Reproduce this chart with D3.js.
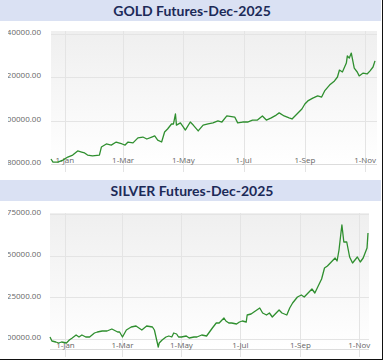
<!DOCTYPE html>
<html>
<head>
<meta charset="utf-8">
<script src="https://cdn.jsdelivr.net/npm/d3@7/dist/d3.min.js"></script>
<style>
body { margin: 0; background: #fff; }
svg { display: block; }
.title { font-family: Lato, "Open Sans", sans-serif; font-weight: 700; font-size: 14px; fill: #1c2a58; }
.tick-label { font-family: "Open Sans", sans-serif; font-size: 8px; fill: #666; }
</style>
</head>
<body>
<div id="chart"></div>
<script>
// values
var goldDates = ["2024-12-18","2024-12-20","2024-12-25","2024-12-30","2025-01-04","2025-01-09","2025-01-14","2025-01-18","2025-01-21","2025-01-24",
  "2025-01-29","2025-02-05","2025-02-07","2025-02-12","2025-02-17","2025-02-22","2025-02-28","2025-03-03","2025-03-06","2025-03-11",
  "2025-03-16","2025-03-21","2025-03-25","2025-03-30","2025-04-02","2025-04-05","2025-04-09","2025-04-12","2025-04-15","2025-04-19",
  "2025-04-21","2025-04-23","2025-04-24","2025-04-28","2025-05-01","2025-05-03","2025-05-08","2025-05-11","2025-05-16","2025-05-21",
  "2025-05-26","2025-05-31","2025-06-05","2025-06-09","2025-06-14","2025-06-22","2025-06-25","2025-06-30","2025-07-05","2025-07-10",
  "2025-07-15","2025-07-20","2025-07-24","2025-07-29","2025-08-03","2025-08-06","2025-08-11","2025-08-16","2025-08-19","2025-08-24",
  "2025-08-29","2025-09-01","2025-09-04","2025-09-09","2025-09-14","2025-09-18","2025-09-21","2025-09-26","2025-10-01","2025-10-04",
  "2025-10-06","2025-10-09","2025-10-13","2025-10-14","2025-10-16","2025-10-18","2025-10-21","2025-10-24","2025-10-26","2025-10-30",
  "2025-11-03","2025-11-06","2025-11-09","2025-11-11"];
var goldValues = [82300,80900,80900,81800,83200,84100,86000,85500,85100,84100,
  83700,84100,87800,89200,88700,90100,89200,88700,90100,89700,
  92000,92400,91500,92400,92900,91000,90100,94700,96100,98400,
  98400,103000,97900,98900,97000,95600,99300,97900,95200,97900,
  98400,98900,99800,99300,102100,101600,98900,99300,99300,100200,
  100200,102100,100200,101200,102500,103500,102100,101200,100700,103000,
  105300,107600,109000,110300,111300,110800,113600,116300,118200,120000,
  123200,122300,126400,129700,128700,131000,124100,122300,120500,121800,
  121400,122800,124600,127400];

var silverDates = ["2024-12-16","2024-12-18","2024-12-22","2024-12-25","2024-12-28","2025-01-02","2025-01-05","2025-01-08","2025-01-12","2025-01-15",
  "2025-01-18","2025-01-22","2025-01-26","2025-01-31","2025-02-03","2025-02-08","2025-02-13","2025-02-18","2025-02-24","2025-02-26",
  "2025-03-01","2025-03-05","2025-03-10","2025-03-15","2025-03-18","2025-03-21","2025-03-26","2025-04-01","2025-04-03","2025-04-07",
  "2025-04-08","2025-04-11","2025-04-15","2025-04-18","2025-04-21","2025-04-23","2025-04-26","2025-04-28","2025-05-01","2025-05-06",
  "2025-05-09","2025-05-14","2025-05-17","2025-05-22","2025-05-27","2025-06-02","2025-06-06","2025-06-09","2025-06-14","2025-06-16",
  "2025-06-19","2025-06-22","2025-06-27","2025-06-30","2025-07-03","2025-07-07","2025-07-08","2025-07-12","2025-07-15","2025-07-21",
  "2025-07-24","2025-07-28","2025-07-31","2025-08-03","2025-08-07","2025-08-10","2025-08-13","2025-08-18","2025-08-21","2025-08-24",
  "2025-08-29","2025-09-02","2025-09-05","2025-09-09","2025-09-13","2025-09-16","2025-09-19","2025-09-23","2025-09-26","2025-09-29",
  "2025-10-03","2025-10-07","2025-10-09","2025-10-11","2025-10-13","2025-10-14","2025-10-16","2025-10-19","2025-10-22","2025-10-25",
  "2025-10-30","2025-11-02","2025-11-05","2025-11-09","2025-11-10"];
var silverValues = [101200,98800,98200,97600,98200,97600,99400,100600,102400,101200,
  102400,101200,101200,103600,104200,104800,104800,106000,104200,104200,
  101200,105400,107200,107800,106600,105400,107800,107200,105400,95200,
  97600,99400,101200,101800,101200,103600,103000,101200,101200,101800,
  100600,101200,101200,102400,101800,106600,109600,109600,112600,110800,
  109600,109600,109000,110200,110800,110200,114400,115000,116200,118600,
  115600,114400,115600,113200,115600,117400,115600,114400,118600,121600,
  125200,126400,125200,127600,130000,127600,131200,136000,142600,143800,
  146200,148600,146800,153400,163600,168400,158200,158200,149200,145600,
  149200,146200,148600,154600,163600];

var goldTicks = [80000, 100000, 120000, 140000];
var silverTicks = [100000, 125000, 150000, 175000];
var xTickDates = ["2025-01-01","2025-03-01","2025-05-01","2025-07-01","2025-09-01","2025-11-01"];
var titles = ["GOLD Futures-Dec-2025", "SILVER Futures-Dec-2025"];

var width = 385, height = 362;
var parseDate = d3.timeParse("%Y-%m-%d");
var fmtX = d3.timeFormat("%-d-%b");
var fmtY = d3.format(".2f");

var svg = d3.select("#chart").append("svg")
    .attr("width", width)
    .attr("height", height);

var defs = svg.append("defs");
var grad = defs.append("linearGradient")
    .attr("id", "plotbg")
    .attr("x1", 0).attr("y1", 0).attr("x2", 0).attr("y2", 1);
grad.append("stop").attr("offset", "0%").attr("stop-color", "#efefef");
grad.append("stop").attr("offset", "100%").attr("stop-color", "#ffffff");

// y labels are cut off at the left edge, like in the original
defs.append("clipPath").attr("id", "labelclip")
  .append("rect").attr("x", 8).attr("y", 0).attr("width", 60).attr("height", height);

function drawPanel(cfg) {
    var data = cfg.dates.map((d, i) => ({date: parseDate(d), value: cfg.values[i]}));

    var g = svg.append("g");

    // title band
    g.append("rect")
        .attr("x", 0).attr("y", cfg.bandTop)
        .attr("width", 381).attr("height", cfg.bandHeight)
        .attr("fill", "#dae1f3");
    g.append("text")
        .attr("class", "title")
        .attr("x", 192).attr("y", cfg.bandTop + cfg.bandHeight / 2)
        .attr("dy", "0.36em")
        .attr("text-anchor", "middle")
        .text(cfg.title);

    var x = d3.scaleTime()
        .domain(d3.extent(data, d => d.date))
        .range([cfg.left, cfg.lineRight]);
    var y = d3.scaleLinear()
        .domain(cfg.yDomain)
        .range([cfg.bottom, cfg.top]);

    g.append("rect")
        .attr("x", cfg.left).attr("y", cfg.top)
        .attr("width", cfg.right - cfg.left).attr("height", cfg.bottom - cfg.top)
        .attr("fill", "url(#plotbg)");

    // horizontal grid
    g.append("g").selectAll("line")
        .data(cfg.ticks)
        .join("line")
        .attr("x1", cfg.left).attr("x2", cfg.right)
        .attr("y1", d => Math.round(y(d)) + 0.5).attr("y2", d => Math.round(y(d)) + 0.5)
        .attr("stroke", "#e4e4e4");

    // vertical grid + ticks below the axis
    var xt = xTickDates.map(parseDate);
    g.append("g").selectAll("line")
        .data(xt)
        .join("line")
        .attr("x1", d => Math.round(x(d)) + 0.5).attr("x2", d => Math.round(x(d)) + 0.5)
        .attr("y1", cfg.top).attr("y2", cfg.bottom + 8)
        .attr("stroke", "#e4e4e4");

    g.append("line")
        .attr("x1", cfg.left).attr("x2", cfg.right)
        .attr("y1", cfg.bottom + 0.5).attr("y2", cfg.bottom + 0.5)
        .attr("stroke", "#dcdcdc");

    g.append("g").attr("clip-path", "url(#labelclip)")
        .selectAll("text")
        .data(cfg.ticks)
        .join("text")
        .attr("class", "tick-label")
        .attr("x", 41)
        .attr("y", d => y(d) - 1.5)
        .attr("dy", "0.35em")
        .attr("text-anchor", "end")
        .text(d => fmtY(d));

    g.append("g").selectAll("text")
        .data(xt)
        .join("text")
        .attr("class", "tick-label")
        .attr("x", d => x(d))
        .attr("y", cfg.bottom - 1.5)
        .attr("text-anchor", "middle")
        .text(d => fmtX(d));

    var line = d3.line()
        .x(d => x(d.date))
        .y(d => y(d.value));

    g.append("path")
        .datum(data)
        .attr("fill", "none")
        .attr("stroke", "#2f8f2f")
        .attr("stroke-width", 1.3)
        .attr("stroke-linejoin", "round")
        .attr("d", line);
}

drawPanel({
    title: titles[0], dates: goldDates, values: goldValues, ticks: goldTicks,
    yDomain: [80000, 141150],
    bandTop: 0, bandHeight: 21,
    left: 51, right: 377, lineRight: 375, top: 31, bottom: 164
});

drawPanel({
    title: titles[1], dates: silverDates, values: silverValues, ticks: silverTicks,
    yDomain: [94000, 175600],
    bandTop: 180, bandHeight: 21,
    left: 50, right: 369, lineRight: 368, top: 213, bottom: 349
});

// outer frame (right and bottom edges)
svg.append("line").attr("x1", 382.5).attr("x2", 382.5).attr("y1", 0).attr("y2", 360)
    .attr("stroke", "#111");
svg.append("line").attr("x1", 0).attr("x2", 383).attr("y1", 359.5).attr("y2", 359.5)
    .attr("stroke", "#111");
</script>
</body>
</html>
